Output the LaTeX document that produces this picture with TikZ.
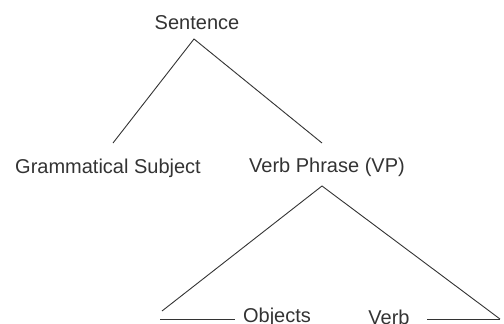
\documentclass[tikz,border=0pt]{standalone}
\usepackage{fontspec}
\setmainfont{Liberation Sans}
\definecolor{ink}{HTML}{333333}
\begin{document}
\begin{tikzpicture}[x=1pt,y=-1pt,
  lbl/.style={inner sep=0pt, text=ink, font=\fontsize{20}{24}\selectfont, anchor=center},
  edge/.style={draw=ink, line width=0.9pt}]
\useasboundingbox (0,0) rectangle (504,324);
\node[lbl] (sentence) at (197,23) {Sentence};
\node[lbl] (gs) at (108,168) {Grammatical Subject};
\node[lbl] (vp) at (327,167) {Verb Phrase (VP)};
\node[lbl] (objects) at (277,317) {Objects};
\node[lbl] (verb) at (389,317) {Verb};
\coordinate (sTop) at (194,39);
\coordinate (gsTop) at (113,143);
\coordinate (vpIn) at (322,143);
\coordinate (vpTop) at (322,186);
\coordinate (lEnd) at (162,311);
\coordinate (rEnd) at (500,319);
\coordinate (lStart) at (160,319);
\coordinate (objL) at (235,319);
\coordinate (verbR) at (427,319);
\draw[edge] (gsTop) -- (sTop) -- (vpIn);
\draw[edge] (lEnd) -- (vpTop) -- (rEnd);
\draw[edge] (lStart) -- (objL);
\draw[edge] (verbR) -- (rEnd);
\end{tikzpicture}
\end{document}
